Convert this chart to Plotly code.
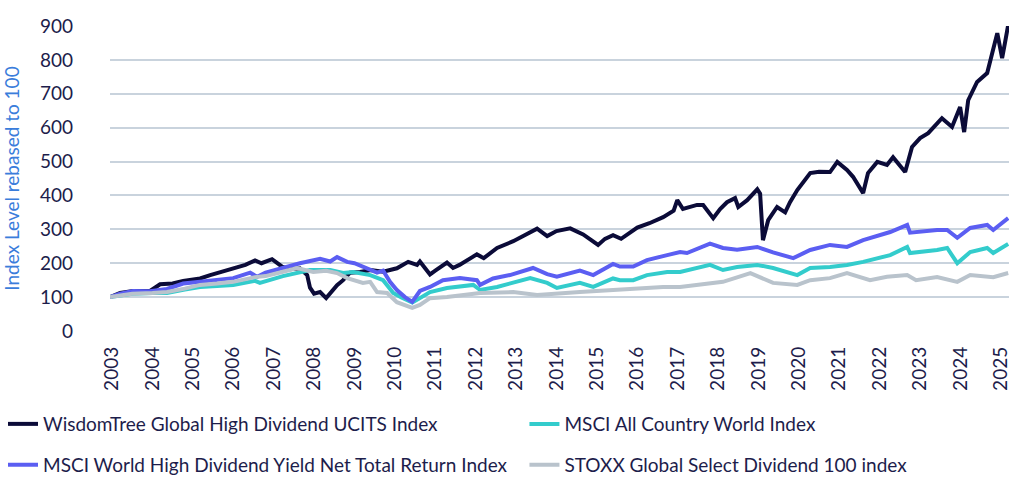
import plotly.graph_objects as go

# ---------------- data ----------------
years = list(range(2003, 2026))
year_labels = [str(y) for y in years]

wt_dates = [2002.95, 2003.2, 2003.52, 2003.94, 2004.19, 2004.5, 2004.76, 2005.18, 2005.43, 2006.0,
            2006.3, 2006.54, 2006.7, 2006.96, 2007.1, 2007.21, 2007.41, 2007.65, 2007.83, 2007.9,
            2008.0, 2008.15, 2008.3, 2008.45, 2008.57, 2008.72, 2008.89, 2009.14, 2009.4, 2009.71,
            2010.05, 2010.33, 2010.55, 2010.62, 2010.8, 2010.87, 2011.0, 2011.29, 2011.44, 2011.6,
            2012.03, 2012.2, 2012.53, 2012.93, 2013.2, 2013.52, 2013.77, 2014.0, 2014.34, 2014.66,
            2015.03, 2015.2, 2015.4, 2015.6, 2016.0, 2016.3, 2016.64, 2016.9, 2016.99, 2017.13,
            2017.48, 2017.63, 2017.88, 2018.05, 2018.22, 2018.42, 2018.5, 2018.72, 2018.97, 2019.04,
            2019.11, 2019.24, 2019.46, 2019.66, 2019.78, 2019.96, 2020.28, 2020.5, 2020.77, 2020.95,
            2021.19, 2021.34, 2021.59, 2021.71, 2021.94, 2022.18, 2022.33, 2022.5, 2022.63, 2022.8,
            2023.0, 2023.2, 2023.54, 2023.79, 2023.99, 2024.09, 2024.19, 2024.41, 2024.66, 2024.91,
            2025.03, 2025.1, 2025.18]
wt_values = [100, 112, 118, 118, 138, 140, 148, 155, 165, 186,
             195, 208, 200, 212, 200, 190, 182, 185, 165, 128,
             110, 115, 97, 120, 135, 150, 172, 174, 180, 175,
             185, 204, 195, 205, 180, 167, 178, 202, 186, 195,
             226, 215, 245, 265, 282, 302, 280, 295, 303, 285,
             254, 272, 283, 272, 305, 318, 336, 355, 386, 360,
             372, 372, 333, 360, 380, 392, 366, 386, 418, 405,
             268, 327, 366, 350, 380, 416, 466, 470, 469, 499,
             475, 455, 407, 466, 499, 490, 513, 490, 469, 543,
             569, 584, 628, 602, 661, 587, 681, 735, 761, 879,
             805, 850, 903]

acwi_dates = [2002.95, 2003.5, 2004.0, 2004.36, 2004.8, 2005.18, 2005.6, 2006.0, 2006.54, 2006.66,
              2007.23, 2007.6, 2007.9, 2008.4, 2008.72, 2008.97, 2009.39, 2009.71, 2009.96, 2010.15,
              2010.43, 2010.62, 2010.87, 2011.29, 2011.94, 2012.11, 2012.53, 2013.35, 2013.77, 2014.01,
              2014.58, 2014.91, 2015.4, 2015.57, 2015.9, 2016.24, 2016.74, 2017.06, 2017.8, 2018.12,
              2018.47, 2018.97, 2019.36, 2019.96, 2020.28, 2020.77, 2021.19, 2021.59, 2022.01, 2022.26,
              2022.68, 2022.75, 2023.42, 2023.67, 2023.92, 2024.24, 2024.66, 2024.81, 2025.18]
acwi_values = [100, 110, 112, 112, 122, 130, 133, 136, 148, 142,
               162, 172, 180, 180, 171, 174, 165, 150, 112, 100,
               84, 97, 115, 127, 136, 121, 130, 156, 142, 127,
               142, 130, 155, 150, 150, 165, 174, 174, 195, 180,
               189, 195, 186, 165, 186, 189, 195, 204, 218, 224,
               248, 230, 239, 245, 200, 233, 245, 230, 257]

hdy_dates = [2002.95, 2003.2, 2003.52, 2003.94, 2004.36, 2004.76, 2005.18, 2005.6, 2006.0, 2006.42,
             2006.59, 2006.8, 2007.23, 2007.65, 2008.15, 2008.4, 2008.57, 2008.82, 2009.0, 2009.21,
             2009.56, 2009.71, 2009.88, 2010.05, 2010.25, 2010.43, 2010.62, 2010.87, 2011.19, 2011.61,
             2012.03, 2012.11, 2012.43, 2012.85, 2013.42, 2013.77, 2014.01, 2014.58, 2014.91, 2015.4,
             2015.57, 2015.9, 2016.24, 2016.74, 2017.06, 2017.23, 2017.8, 2018.12, 2018.47, 2018.97,
             2019.36, 2019.86, 2020.28, 2020.77, 2021.19, 2021.59, 2022.01, 2022.26, 2022.68, 2022.75,
             2023.42, 2023.67, 2023.92, 2024.24, 2024.66, 2024.81, 2025.18]
hdy_values = [100, 110, 118, 117, 124, 140, 145, 150, 156, 172,
              160, 172, 186, 200, 213, 205, 218, 204, 200, 189,
              172, 178, 145, 121, 100, 86, 118, 130, 150, 156,
              150, 136, 155, 165, 186, 168, 160, 178, 165, 198,
              190, 190, 209, 224, 233, 230, 258, 245, 240, 248,
              232, 215, 239, 254, 248, 268, 283, 292, 313, 290,
              298, 298, 275, 304, 313, 298, 333]

stoxx_dates = [2002.95, 2003.5, 2004.0, 2004.36, 2004.8, 2005.18, 2005.6, 2006.0, 2006.54, 2006.8,
               2007.23, 2007.58, 2007.98, 2008.3, 2008.57, 2008.82, 2009.21, 2009.39, 2009.56, 2009.81,
               2010.05, 2010.43, 2010.62, 2010.87, 2011.29, 2012.11, 2012.93, 2013.52, 2014.58, 2015.4,
               2016.0, 2016.64, 2017.06, 2017.8, 2018.12, 2018.47, 2018.8, 2019.36, 2019.96, 2020.28,
               2020.77, 2021.19, 2021.76, 2022.18, 2022.68, 2022.9, 2023.42, 2023.92, 2024.24, 2024.81,
               2025.18]
stoxx_values = [100, 110, 112, 115, 125, 136, 140, 145, 159, 162,
                175, 186, 174, 178, 171, 156, 142, 145, 115, 112,
                85, 68, 77, 97, 100, 112, 115, 106, 115, 121,
                125, 130, 130, 142, 145, 158, 171, 142, 136, 150,
                156, 171, 150, 160, 165, 150, 159, 145, 165, 159,
                171]

series = [
    ("WisdomTree Global High Dividend UCITS Index", wt_dates, wt_values, "#0b0b38", "legend"),
    ("MSCI All Country World Index", acwi_dates, acwi_values, "#33cccc", "legend2"),
    ("MSCI World High Dividend Yield Net Total Return Index", hdy_dates, hdy_values, "#5b5ef2", "legend3"),
    ("STOXX Global Select Dividend 100 index", stoxx_dates, stoxx_values, "#b9c3cc", "legend4"),
]

# ---------------- figure ----------------
FONT = "Lato, Carlito, 'Liberation Sans', sans-serif"
TXT = "#1d1d4b"
FS = 19

fig = go.Figure()
for name, xs, ys, color, lg in series:
    fig.add_trace(go.Scatter(x=xs, y=ys, mode="lines", name=name,
                             line=dict(color=color, width=4),
                             legend=lg))

legend_common = dict(orientation="h", xanchor="left", yanchor="middle",
                     font=dict(family=FONT, size=FS, color=TXT),
                     bgcolor="rgba(0,0,0,0)", itemwidth=30)

col1_x, col2_x = -0.119, 0.461
row1_y, row2_y = -0.305, -0.439

fig.update_layout(
    width=1024, height=485,
    margin=dict(l=110, r=15, t=26, b=154, autoexpand=False),
    paper_bgcolor="white", plot_bgcolor="white",
    font=dict(family=FONT, size=FS, color=TXT),
    showlegend=True,
    legend=dict(x=col1_x, y=row1_y, **legend_common),
    legend2=dict(x=col2_x, y=row1_y, **legend_common),
    legend3=dict(x=col1_x, y=row2_y, **legend_common),
    legend4=dict(x=col2_x, y=row2_y, **legend_common),
    xaxis=dict(range=[2002.95, 2025.2], tickmode="array", tickvals=years,
               ticktext=year_labels, tickangle=-90, showgrid=False,
               zeroline=False, showline=False, ticks="",
               tickfont=dict(family=FONT, size=FS, color=TXT),
               ticklabelstandoff=11, automargin=False),
    yaxis=dict(range=[0, 900], tickmode="array", tickvals=list(range(0, 1000, 100)),
               showgrid=True, gridcolor="#c9d3dd", gridwidth=1.6,
               zeroline=False, showline=False, ticks="",
               tickfont=dict(family=FONT, size=FS, color=TXT),
               ticklabelstandoff=36, automargin=False,
               title=dict(text="Index Level rebased to 100",
                          font=dict(family=FONT, size=FS, color="#3a7ddb"),
                          standoff=18)),
)

fig.write_html("out.html")
